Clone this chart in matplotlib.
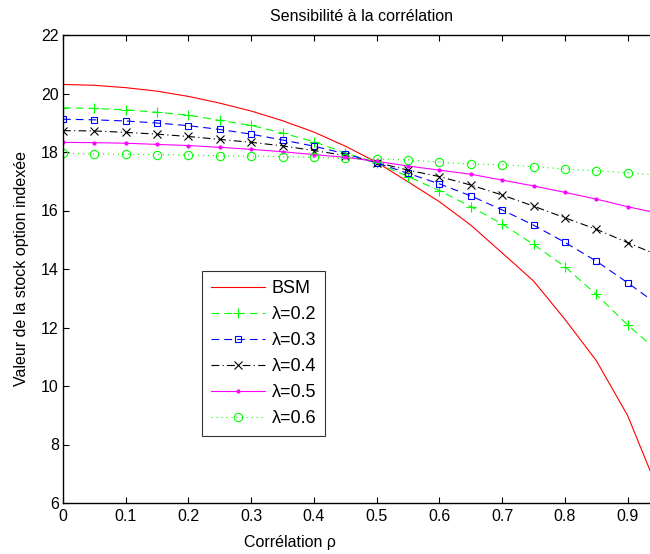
import matplotlib
matplotlib.use("Agg")
import matplotlib.pyplot as plt

plt.rcParams['font.family'] = ['Liberation Sans', 'DejaVu Sans']

# correlation grid
rho = [0.0, 0.05, 0.10, 0.15, 0.20, 0.25, 0.30, 0.35, 0.40, 0.45,
       0.50, 0.55, 0.60, 0.65, 0.70, 0.75, 0.80, 0.85, 0.90, 0.95]

bsm = [20.31, 20.28, 20.20, 20.08, 19.90, 19.67, 19.40, 19.07, 18.68, 18.20,
       17.65, 16.98, 16.30, 15.50, 14.55, 13.59, 12.28, 10.87, 8.99, 6.36]
lam02 = [19.51, 19.49, 19.44, 19.36, 19.26, 19.08, 18.91, 18.65, 18.35, 17.97,
         17.62, 17.16, 16.68, 16.13, 15.54, 14.84, 14.08, 13.13, 12.09, 11.15]
lam03 = [19.12, 19.10, 19.06, 18.99, 18.90, 18.77, 18.61, 18.41, 18.20, 17.94,
         17.63, 17.27, 16.91, 16.50, 16.02, 15.50, 14.91, 14.27, 13.53, 12.75]
lam04 = [18.73, 18.72, 18.67, 18.61, 18.53, 18.43, 18.33, 18.21, 18.05, 17.88,
         17.64, 17.38, 17.16, 16.87, 16.53, 16.15, 15.75, 15.36, 14.90, 14.46]
lam05 = [18.33, 18.32, 18.30, 18.26, 18.22, 18.16, 18.09, 18.01, 17.91, 17.82,
         17.68, 17.52, 17.38, 17.24, 17.04, 16.84, 16.62, 16.39, 16.13, 15.90]
lam06 = [17.96, 17.93, 17.92, 17.91, 17.90, 17.87, 17.86, 17.84, 17.82, 17.78,
         17.76, 17.73, 17.65, 17.59, 17.56, 17.50, 17.42, 17.36, 17.29, 17.20]

labels = ['BSM', 'λ=0.2', 'λ=0.3', 'λ=0.4', 'λ=0.5', 'λ=0.6']
xticks = [0, 0.1, 0.2, 0.3, 0.4, 0.5, 0.6, 0.7, 0.8, 0.9]
yticks = [6, 8, 10, 12, 14, 16, 18, 20, 22]

W, H = 650, 554
fig = plt.figure(figsize=(W / 100, H / 100), dpi=100)
# axes runs a bit past the right border, like the cropped original
ax = fig.add_axes([63 / W, 1 - 503 / H, (659 - 63) / W, (503 - 35) / H])

lw = 0.8
ms = 6
ax.plot(rho, bsm, color='#ff0000', lw=lw, label=labels[0])
ax.plot(rho, lam02, color='#00ff00', lw=lw, marker='+', ms=6.5, mew=0.8,
        dashes=(7, 4.5), label=labels[1])
ax.plot(rho, lam03, color='#0000ff', lw=lw, marker='s', ms=5, mew=0.8,
        mfc='none', dashes=(7, 4.5), label=labels[2])
ax.plot(rho, lam04, color='black', lw=lw, marker='x', ms=ms, mew=0.8,
        dashes=(7, 3, 1, 3), label=labels[3])
ax.plot(rho, lam05, color='#ff00ff', lw=lw, marker='.', ms=4, label=labels[4])
ax.plot(rho, lam06, color='#00ff00', lw=lw, marker='o', ms=ms, mew=0.8,
        mfc='none', dashes=(1, 3.5), label=labels[5])

ax.set_xlim(0, 0.95)
ax.set_ylim(6, 22)
ax.set_xticks(xticks)
ax.set_xticklabels(['0' if t == 0 else f'{t:g}' for t in xticks])
ax.set_yticks(yticks)
ax.tick_params(direction='in', length=4, width=0.8, top=True, right=True,
               labelsize=11.5, pad=3, colors='black')
ax.tick_params(axis='x', pad=4.5)
for side in ['left', 'bottom', 'top']:
    ax.spines[side].set_linewidth(1.0)
ax.spines['right'].set_visible(False)

ax.set_title('Sensibilité à la corrélation', fontsize=11.5, pad=10)
ax.set_xlabel('Corrélation ρ', fontsize=11.5)
ax.xaxis.set_label_coords((290 - 63) / (659 - 63), -0.068)
ax.set_ylabel('Valeur de la stock option indexée', fontsize=11.5)
ax.yaxis.set_label_coords(-0.057, 0.5)

leg = ax.legend(loc='upper left', bbox_to_anchor=((202 - 63) / (659 - 63), 1 - (271 - 35) / 468),
                fontsize=13, frameon=True, fancybox=False, numpoints=1,
                handlelength=3.0, handletextpad=0.35, labelspacing=0.5,
                borderpad=0.5, borderaxespad=0)
leg.get_frame().set_edgecolor('black')
leg.get_frame().set_linewidth(0.8)

fig.savefig('out.png', dpi=100)
